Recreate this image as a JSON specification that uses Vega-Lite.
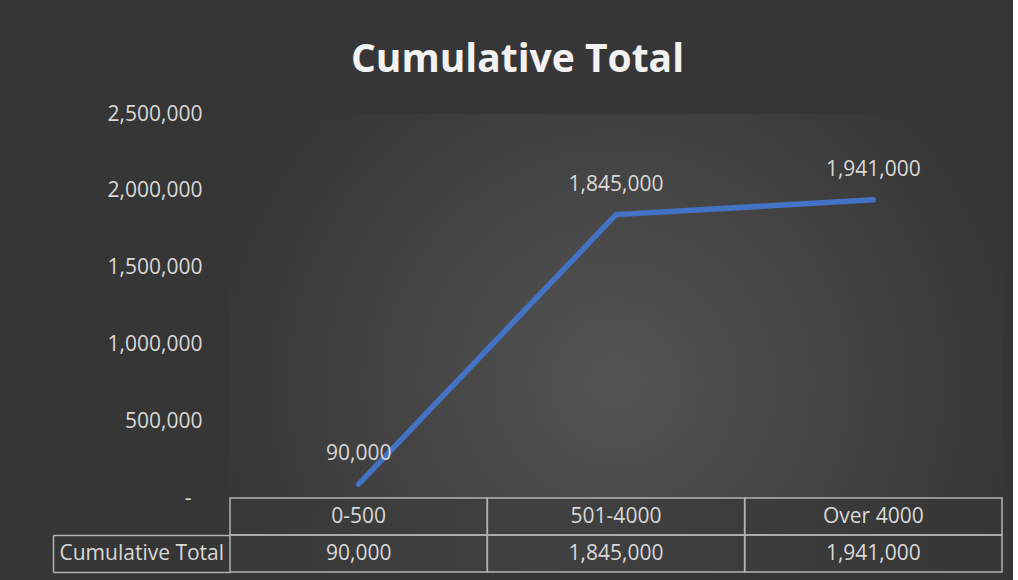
{
  "$schema": "https://vega.github.io/schema/vega-lite/v6.json",
  "background": "#363636",
  "padding": {"left": 52, "top": 41, "right": 10, "bottom": 7},
  "bounds": "flush",
  "title": {
    "text": "Cumulative Total",
    "font": "Open Sans",
    "fontSize": 39,
    "fontWeight": "bold",
    "letterSpacing": 0.3,
    "color": "#f2f2f2",
    "anchor": "middle",
    "dx": -10,
    "offset": 23
  },
  "config": {"view": {"stroke": null}, "font": "Open Sans"},
  "data": {
    "values": [
      {"range": "0-500", "total": 90000},
      {"range": "501-4000", "total": 1845000},
      {"range": "Over 4000", "total": 1941000}
    ]
  },
  "spacing": 0,
  "vconcat": [
    {
      "width": 772,
      "height": 384,
      "view": {
        "fill": {
          "gradient": "radial",
          "x1": 0.5, "y1": 0.6, "r1": 0,
          "x2": 0.5, "y2": 0.6, "r2": 0.6,
          "stops": [
            {"offset": 0, "color": "#545454"},
            {"offset": 0.82, "color": "#383838"},
            {"offset": 1, "color": "#363636"}
          ]
        }
      },
      "encoding": {
        "x": {
          "field": "range", "type": "nominal", "sort": null,
          "scale": {"type": "band", "paddingInner": 0, "paddingOuter": 0},
          "axis": null
        },
        "y": {
          "field": "total", "type": "quantitative",
          "scale": {"domain": [0, 2500000], "nice": false},
          "axis": {
            "title": null,
            "values": [0, 500000, 1000000, 1500000, 2000000, 2500000],
            "labelExpr": "datum.value === 0 ? '-' : format(datum.value, ',')",
            "domain": false, "ticks": false, "grid": false,
            "labelPadding": {"condition": {"test": "datum.value === 0", "value": 39}, "value": 28},
            "labelFontSize": 21, "labelColor": "#d9d9d9", "labelFont": "Open Sans"
          }
        }
      },
      "layer": [
        {"mark": {"type": "line", "color": "#4472c4", "strokeWidth": 5.5, "strokeCap": "round", "strokeJoin": "miter"}},
        {
          "mark": {"type": "text", "dy": -30, "fontSize": 21, "color": "#d9d9d9", "font": "Open Sans"},
          "encoding": {"text": {"field": "total", "format": ","}}
        }
      ]
    },
    {
      "width": 772,
      "height": 74,
      "view": {
        "fill": {
          "gradient": "linear",
          "x1": 0, "y1": 0, "x2": 1, "y2": 0,
          "stops": [
            {"offset": 0, "color": "#383838"},
            {"offset": 0.4, "color": "#414141"},
            {"offset": 1, "color": "#363636"}
          ]
        }
      },
      "encoding": {
        "x": {
          "field": "range", "type": "nominal", "sort": null,
          "scale": {"type": "band", "paddingInner": 0, "paddingOuter": 0},
          "axis": null
        }
      },
      "layer": [
        {
          "mark": {"type": "rect", "filled": false, "stroke": "#b3b3b3", "strokeWidth": 1.5},
          "encoding": {
            "y": {
              "datum": "Category", "type": "nominal",
              "scale": {"type": "band", "domain": ["Category", "Cumulative Total"], "paddingInner": 0, "paddingOuter": 0},
              "axis": {
                "title": null, "grid": false,
                "offset": 177,
                "domain": true, "domainColor": "#b3b3b3", "domainWidth": 1.5, "domainDash": [0, 37, 37, 0],
                "ticks": true, "tickSize": -177, "tickWidth": 1.5, "tickColor": "#b3b3b3", "tickBand": "extent",
                "tickOpacity": {"condition": {"test": "datum.extra", "value": 0}, "value": 1},
                "labelExpr": "datum.value === 'Category' ? '' : datum.value",
                "labelAlign": "left", "labelPadding": 171,
                "labelFontSize": 21, "labelColor": "#d9d9d9", "labelFont": "Open Sans"
              }
            }
          }
        },
        {
          "mark": {"type": "rect", "filled": false, "stroke": "#b3b3b3", "strokeWidth": 1.5},
          "encoding": {"y": {"datum": "Cumulative Total", "type": "nominal"}}
        },
        {
          "mark": {"type": "text", "fontSize": 21, "color": "#d9d9d9", "font": "Open Sans"},
          "encoding": {"y": {"datum": "Category", "type": "nominal"}, "text": {"field": "range"}}
        },
        {
          "mark": {"type": "text", "fontSize": 21, "color": "#d9d9d9", "font": "Open Sans"},
          "encoding": {"y": {"datum": "Cumulative Total", "type": "nominal"}, "text": {"field": "total", "format": ","}}
        }
      ]
    }
  ]
}
